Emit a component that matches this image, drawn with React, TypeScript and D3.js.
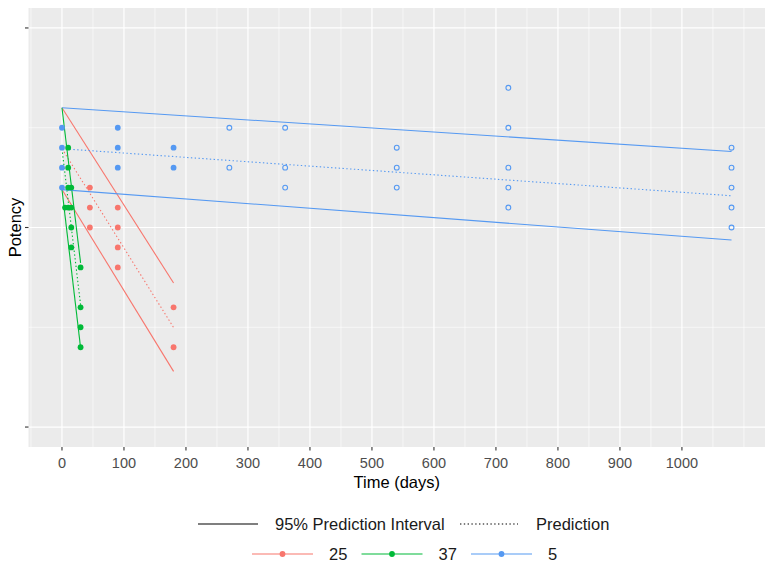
import React from "react";
import * as d3 from "d3";

// ---- data ----
const groupNames = ["25", "37", "5"];
const groupColors = ["#F8766D", "#00BA38", "#5599F2"];

// observed potency per temperature group
const redTimes = [45, 45, 45, 90, 90, 90, 90, 180, 180];
const redPotency = [102, 101, 100, 101, 100, 99, 98, 96, 94];

const greenTimes = [10, 10, 10, 15, 5, 10, 15, 15, 15, 30, 30, 30, 30];
const greenPotency = [104, 103, 102, 102, 101, 101, 101, 100, 99, 98, 96, 95, 94];

const blueTimes = [0, 0, 0, 0, 90, 90, 90, 180, 180, 270, 270, 360, 360, 360, 540, 540, 540, 720, 720, 720, 720, 720, 1080, 1080, 1080, 1080, 1080];
const bluePotency = [105, 104, 103, 102, 105, 104, 103, 104, 103, 105, 103, 105, 103, 102, 104, 103, 102, 107, 105, 103, 102, 101, 104, 103, 102, 101, 100];
const blueUsedInModel = [1, 1, 1, 1, 1, 1, 1, 1, 1, 0, 0, 0, 0, 0, 0, 0, 0, 0, 0, 0, 0, 0, 0, 0, 0, 0, 0];

// model lines (start at day 0, end at last time point of each group)
const lineEndTimes = [180, 30, 1080];
const upperStart = 106.0;
const predStart = 103.95;
const lowerStart = 101.9;
const upperEnd = [97.22, 98.23, 103.81];
const predEnd = [94.99, 96.13, 101.59];
const lowerEnd = [92.79, 93.98, 99.37];

// axes
const xTicks = [0, 100, 200, 300, 400, 500, 600, 700, 800, 900, 1000];
const xMinor = [-50, 50, 150, 250, 350, 450, 550, 650, 750, 850, 950, 1050, 1100];
const yTicks = [90, 100, 110];
const yMinor = [95, 105];

const W = 772;
const H = 572;
const panel = { left: 28.5, right: 765, top: 8, bottom: 447 };

export default function App() {
  const x = d3.scaleLinear().domain([-54, 1134]).range([panel.left, panel.right]);
  const y = d3.scaleLinear().domain([89, 111]).range([panel.bottom, panel.top]);

  const line = d3
    .line<[number, number]>()
    .x((d) => x(d[0]))
    .y((d) => y(d[1]));

  const pointSets = [
    { t: redTimes, v: redPotency, f: redTimes.map(() => 1) },
    { t: greenTimes, v: greenPotency, f: greenTimes.map(() => 1) },
    { t: blueTimes, v: bluePotency, f: blueUsedInModel },
  ];

  const font = "Liberation Sans, Arial, sans-serif";

  return (
    <svg
      width={W}
      height={H}
      style={{ position: "absolute", left: 0, top: 0, background: "#fff" }}
      fontFamily={font}
    >
      <rect x={0} y={0} width={W} height={H} fill="#fff" />
      <rect
        x={panel.left}
        y={panel.top}
        width={panel.right - panel.left}
        height={panel.bottom - panel.top}
        fill="#EBEBEB"
      />
      {/* minor grid */}
      {xMinor.map((t) => (
        <line key={"xm" + t} x1={x(t)} x2={x(t)} y1={panel.top} y2={panel.bottom} stroke="#fff" strokeWidth={0.6} />
      ))}
      {yMinor.map((v) => (
        <line key={"ym" + v} x1={panel.left} x2={panel.right} y1={y(v)} y2={y(v)} stroke="#fff" strokeWidth={0.6} />
      ))}
      {/* major grid */}
      {xTicks.map((t) => (
        <line key={"xM" + t} x1={x(t)} x2={x(t)} y1={panel.top} y2={panel.bottom} stroke="#fff" strokeWidth={1.2} />
      ))}
      {yTicks.map((v) => (
        <line key={"yM" + v} x1={panel.left} x2={panel.right} y1={y(v)} y2={y(v)} stroke="#fff" strokeWidth={1.2} />
      ))}

      {/* model lines */}
      {groupNames.map((g, i) => (
        <g key={"l" + g} stroke={groupColors[i]} fill="none" strokeWidth={1.1}>
          <path d={line([[0, upperStart], [lineEndTimes[i], upperEnd[i]]]) || ""} />
          <path d={line([[0, lowerStart], [lineEndTimes[i], lowerEnd[i]]]) || ""} />
          <path d={line([[0, predStart], [lineEndTimes[i], predEnd[i]]]) || ""} strokeDasharray="1.4,2.4" />
        </g>
      ))}

      {/* points */}
      {pointSets.map((s, i) => (
        <g key={"p" + i}>
          {s.t.map((t, j) =>
            s.f[j] ? (
              <circle key={j} cx={x(t)} cy={y(s.v[j])} r={2.9} fill={groupColors[i]} />
            ) : (
              <circle key={j} cx={x(t)} cy={y(s.v[j])} r={2.4} fill="none" stroke={groupColors[i]} strokeWidth={1.1} />
            )
          )}
        </g>
      ))}

      {/* x axis */}
      {xTicks.map((t) => (
        <g key={"xt" + t}>
          <line x1={x(t)} x2={x(t)} y1={panel.bottom} y2={panel.bottom + 3.5} stroke="#333" strokeWidth={1.1} />
          <text x={x(t)} y={468} textAnchor="middle" fontSize={14.5} fill="#4D4D4D">
            {t}
          </text>
        </g>
      ))}
      {/* y axis ticks (no labels) */}
      {yTicks.map((v) => (
        <line key={"yt" + v} x1={panel.left - 3.5} x2={panel.left} y1={y(v)} y2={y(v)} stroke="#333" strokeWidth={1.1} />
      ))}
      <text x={(panel.left + panel.right) / 2} y={488} textAnchor="middle" fontSize={16.5} fill="#000">
        Time (days)
      </text>
      <text
        transform={`translate(21,${(panel.top + panel.bottom) / 2}) rotate(-90)`}
        textAnchor="middle"
        fontSize={16.5}
        fill="#000"
      >
        Potency
      </text>

      {/* legend row 1 */}
      <line x1={198} x2={258} y1={524} y2={524} stroke="#000" strokeWidth={1.1} />
      <text x={275} y={524} dy="0.35em" fontSize={16.5} fill="#1A1A1A">
        95% Prediction Interval
      </text>
      <line x1={460} x2={518} y1={524} y2={524} stroke="#000" strokeWidth={1.1} strokeDasharray="1.4,2.4" />
      <text x={536} y={524} dy="0.35em" fontSize={16.5} fill="#1A1A1A">
        Prediction
      </text>

      {/* legend row 2 */}
      {groupNames.map((g, i) => {
        const x0 = 252 + i * 109.5;
        return (
          <g key={"lg" + g}>
            <line x1={x0} x2={x0 + 61} y1={554} y2={554} stroke={groupColors[i]} strokeWidth={1.1} />
            <circle cx={x0 + 30.5} cy={554} r={2.9} fill={groupColors[i]} />
            <text x={x0 + 77} y={554} dy="0.35em" fontSize={16.5} fill="#1A1A1A">
              {g}
            </text>
          </g>
        );
      })}
    </svg>
  );
}
